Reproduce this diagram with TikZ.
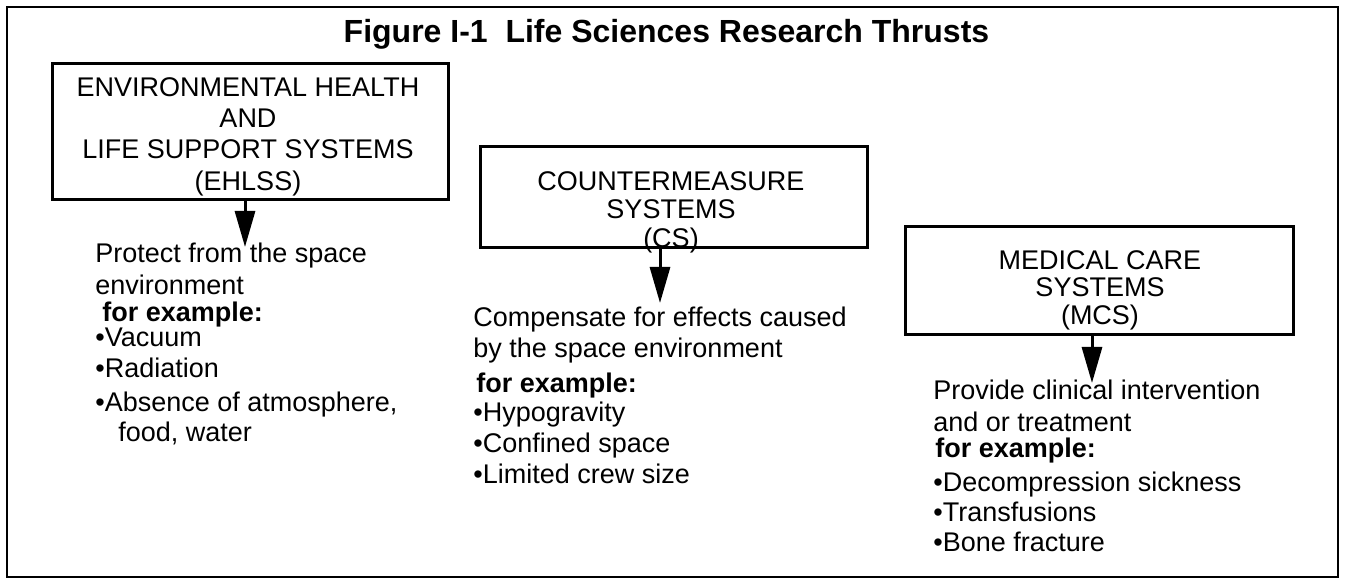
\documentclass[tikz,border=0pt]{standalone}
\usepackage{fontspec}
\setmainfont{Liberation Sans}
\usetikzlibrary{arrows.meta,fit}

\begin{document}
\begin{tikzpicture}[x=0.5pt,y=-0.5pt,
  outerframe/.style={line width=1.3pt},
  sysbox/.style={draw,line width=1.5pt,inner sep=0pt},
  boxtext/.style={anchor=north,inner sep=0pt,align=center},
  txt/.style={anchor=base west,inner sep=0pt,font=\fontsize{13.5}{16}\selectfont},
  extxt/.style={txt,font=\fontsize{13.5}{16}\selectfont\bfseries},
  arr/.style={line width=1.5pt,-{Triangle[width=10pt,length=18pt]}}]
\useasboundingbox (0,0) rectangle (1346,581);
\draw[outerframe] (7,7) rectangle (1338,577);
\draw(666.5,43) node[anchor=base,inner sep=0pt,font=\fontsize{16}{18}\selectfont\bfseries] (title) {Figure I-1~~Life Sciences Research Thrusts};
% the three boxes
\node[sysbox,fit={(52,64) (448,200)}] (ehlss) {};
\node[sysbox,fit={(480,147) (867,248)}] (cs) {};
\node[sysbox,fit={(905,227) (1293,335)}] (mcs) {};
\draw(248,77) node[boxtext,font=\fontsize{13.5}{15.65}\selectfont] (ehlsslabel) {ENVIRONMENTAL HEALTH\\AND\\LIFE SUPPORT SYSTEMS\\(EHLSS)};
\draw(671,171) node[boxtext,font=\fontsize{13.5}{14.25}\selectfont] (cslabel) {COUNTERMEASURE\\SYSTEMS\\(CS)};
\draw(1100,250) node[boxtext,font=\fontsize{13.5}{13.75}\selectfont] (mcslabel) {MEDICAL CARE\\SYSTEMS\\(MCS)};
% arrows
\coordinate (ehlsstip) at (245,247);
\coordinate (cstip) at (660,303);
\coordinate (mcstip) at (1092,383);
\draw[arr] (ehlss.south -| ehlsstip) -- (ehlsstip);
\draw[arr] (cs.south -| cstip) -- (cstip);
\draw[arr] (mcs.south -| mcstip) -- (mcstip);
% EHLSS text
\draw(95,263) node[txt] (ehlss1) {Protect from the space};
\draw(95,295) node[txt] (ehlss2) {environment};
\draw(102,322) node[extxt] (ehlss3) {for example:};
\draw(95,347) node[txt] (ehlss4) {•Vacuum};
\draw(95,378) node[txt] (ehlss5) {•Radiation};
\draw(95,412) node[txt] (ehlss6) {•Absence of atmosphere,};
\draw(118,442) node[txt] (ehlss7) {food, water};
% CS text
\draw(473,327) node[txt] (cs1) {Compensate for effects caused};
\draw(473,358) node[txt] (cs2) {by the space environment};
\draw(476,393) node[extxt] (cs3) {for example:};
\draw(473,422) node[txt] (cs4) {•Hypogravity};
\draw(473,453) node[txt] (cs5) {•Confined space};
\draw(473,484) node[txt] (cs6) {•Limited crew size};
% MCS text
\draw(933,400) node[txt] (mcs1) {Provide clinical intervention};
\draw(933,432) node[txt] (mcs2) {and or treatment};
\draw(935,458) node[extxt] (mcs3) {for example:};
\draw(933,492) node[txt] (mcs4) {•Decompression sickness};
\draw(933,522) node[txt] (mcs5) {•Transfusions};
\draw(933,552) node[txt] (mcs6) {•Bone fracture};
\end{tikzpicture}
\end{document}
